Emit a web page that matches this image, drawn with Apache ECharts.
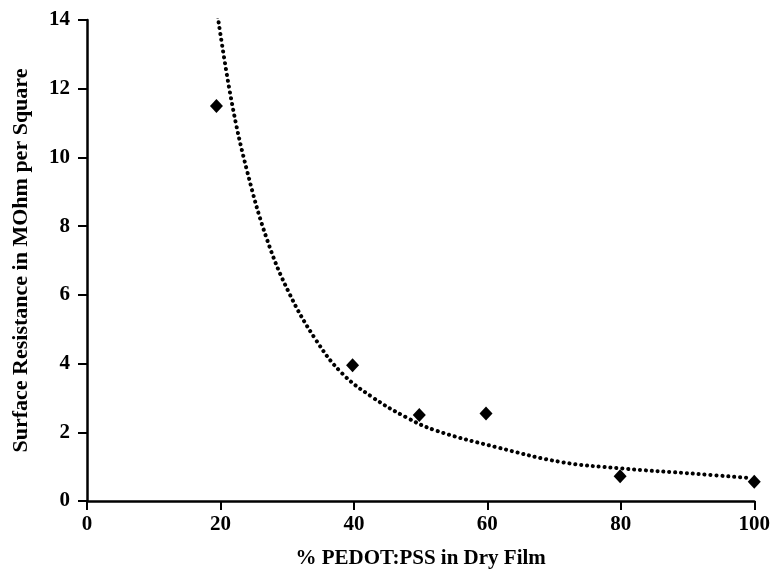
<!DOCTYPE html>
<html>
<head>
<meta charset="utf-8">
<script src="https://cdn.jsdelivr.net/npm/echarts@6/dist/echarts.min.js"></script>
<style>
    html, body { margin: 0; padding: 0; background: #fff; }
    #chart { width: 773px; height: 577px; }
</style>
</head>
<body>
<div id="chart"></div>
<script>
// measured points (x = % PEDOT:PSS, y = MOhm per square)
var measuredX = [19.4, 39.8, 49.8, 59.8, 79.9, 100];
var measuredY = [11.5, 3.95, 2.5, 2.55, 0.72, 0.56];

// trend line
var trendX = [19.6, 21.7, 24, 27, 30.3, 34.3, 38.2, 42.7, 47.8, 52.3, 61.3, 71.2, 80, 91.3, 99.3];
var trendY = [14.1, 11.6, 9.6, 7.6, 6.05, 4.69, 3.72, 3.03, 2.44, 2.05, 1.57, 1.13, 0.95, 0.79, 0.67];

var xTicks = [0, 20, 40, 60, 80, 100];
var yTicks = [0, 2, 4, 6, 8, 10, 12, 14];

var serif = '"Liberation Serif", "DejaVu Serif", serif';

function pairs(xs, ys) {
    var out = [];
    for (var i = 0; i < xs.length; i++) {
        out.push([xs[i], ys[i]]);
    }
    return out;
}

var chart = echarts.init(document.getElementById('chart'));

var axisCommon = {
    axisLine: { show: true, onZero: false, lineStyle: { color: '#000', width: 2.5 } },
    axisTick: { show: true, inside: false, length: 9, lineStyle: { color: '#000', width: 2 } },
    splitLine: { show: false },
    axisLabel: { color: '#000', fontFamily: serif, fontWeight: 'bold', fontSize: 21 }
};

chart.setOption({
    animation: false,
    backgroundColor: '#fff',
    grid: { left: 87, right: 18, top: 20, bottom: 76 },
    xAxis: Object.assign({}, axisCommon, {
        type: 'value',
        min: xTicks[0],
        max: xTicks[xTicks.length - 1],
        interval: 20,
        name: '% PEDOT:PSS in Dry Film',
        nameLocation: 'middle',
        nameGap: 47,
        nameTextStyle: { color: '#000', fontFamily: serif, fontWeight: 'bold', fontSize: 21 },
        axisLabel: Object.assign({}, axisCommon.axisLabel, { margin: 13 })
    }),
    yAxis: Object.assign({}, axisCommon, {
        type: 'value',
        min: yTicks[0],
        max: yTicks[yTicks.length - 1],
        interval: 2,
        name: 'Surface Resistance in MOhm per Square',
        nameLocation: 'middle',
        nameGap: 55,
        nameTextStyle: { color: '#000', fontFamily: serif, fontWeight: 'bold', fontSize: 22 },
        axisLabel: Object.assign({}, axisCommon.axisLabel, { margin: 17 })
    }),
    series: [
        {
            type: 'line',
            data: pairs(trendX, trendY),
            smooth: 0.4,
            showSymbol: false,
            lineStyle: { color: '#000', width: 4, type: [0.1, 5.8], cap: 'round' },
            z: 2
        },
        {
            type: 'scatter',
            data: pairs(measuredX, measuredY),
            symbol: 'diamond',
            symbolSize: [13, 14],
            itemStyle: { color: '#000', opacity: 1 },
            z: 3
        }
    ]
});
</script>
</body>
</html>
